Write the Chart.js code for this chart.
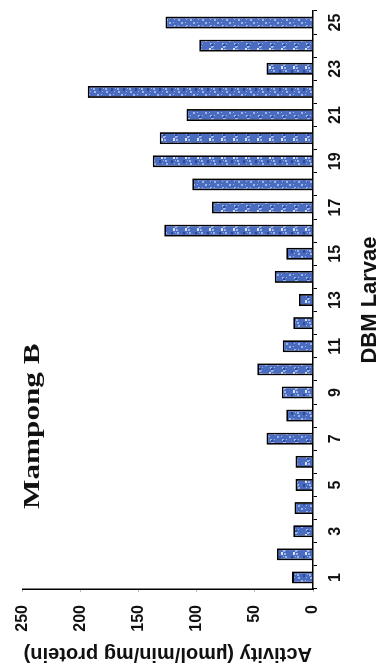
<!DOCTYPE html>
<html>
<head>
<meta charset="utf-8">
<title>Mampong B</title>
<script src="https://cdn.jsdelivr.net/npm/chart.js@4.4.1/dist/chart.umd.min.js"></script>
<style>
    html, body { margin: 0; padding: 0; background: #fff; }
    #page { position: relative; width: 384px; height: 672px; overflow: hidden; }
    /* chart is laid out landscape and turned a quarter turn counter-clockwise */
    #turn {
        position: absolute; left: 0; top: 0;
        width: 672px; height: 384px;
        transform-origin: 0 0;
        transform: translate(0, 672px) rotate(-90deg);
    }
</style>
</head>
<body>
<div id="page">
    <div id="turn"><canvas id="activityChart" width="672" height="384"></canvas></div>
</div>
<script>
// DBM larvae numbered 1..25
const larvae = ["1","2","3","4","5","6","7","8","9","10","11","12","13","14","15","16","17","18","19","20","21","22","23","24","25"];
// enzyme activity, umol/min/mg protein
const activity = [18, 31, 17, 16, 15, 15, 40, 23, 27, 48, 26, 17, 12, 33, 23, 128, 87, 104, 138, 132, 109, 194, 40, 98, 127];
const activityTicks = [0, 50, 100, 150, 200, 250];

const chartTitle = "Mampong B";
const xTitle = "DBM Larvae";
const yTitle = "Activity (\u00b5mol/min/mg protein)";

// mottled blue fill for the bars
function barPattern() {
    const c = document.createElement('canvas');
    c.width = 18; c.height = 12;
    const g = c.getContext('2d');
    g.fillStyle = '#4a6cc0';
    g.fillRect(0, 0, 18, 12);
    g.fillStyle = '#9db4e6';
    for (let i = 0; i < 18; i += 3) {
        g.fillRect(i, (i * 3) % 10 + 1, 2, 2);
        g.fillRect(i + 1, (i * 7 + 4) % 10 + 1, 1, 1);
    }
    g.fillStyle = '#d8e2f6';
    g.fillRect(9, 5, 3, 2);
    g.fillStyle = '#2d4a99';
    g.fillRect(5, 3, 3, 2);
    g.fillRect(14, 7, 2, 2);
    return g.createPattern(c, 'repeat');
}

// serif panel heading drawn inside the plot, slightly widened
const headingPlugin = {
    id: 'heading',
    afterDraw(chart) {
        const ctx = chart.ctx;
        const a = chart.chartArea;
        ctx.save();
        ctx.translate(a.left + 80, a.top + 16);
        ctx.scale(1.3, 1);
        ctx.font = 'bold 24px "Liberation Serif", "Times New Roman", serif';
        ctx.fillStyle = '#111';
        ctx.textBaseline = 'alphabetic';
        ctx.fillText(chartTitle, 0, 0);
        ctx.restore();
    }
};

const ctx = document.getElementById('activityChart').getContext('2d');
new Chart(ctx, {
    type: 'bar',
    data: {
        labels: larvae,
        datasets: [{
            data: activity,
            backgroundColor: barPattern(),
            borderColor: '#000',
            borderWidth: 1.8,
            categoryPercentage: 1,
            barPercentage: 0.52
        }]
    },
    options: {
        responsive: false,
        animation: false,
        devicePixelRatio: 1,
        layout: { padding: { top: 22, right: 11, left: 0, bottom: 0 } },
        plugins: {
            legend: { display: false },
            tooltip: { enabled: false }
        },
        scales: {
            x: {
                grid: {
                    display: true,
                    drawOnChartArea: false,
                    drawTicks: true,
                    tickLength: 4,
                    color: '#000',
                    lineWidth: 1
                },
                border: { display: true, color: '#000', width: 1.5 },
                ticks: {
                    autoSkip: false,
                    maxRotation: 0,
                    padding: 9,
                    color: '#111',
                    font: { family: '"Liberation Sans", Arial, sans-serif', size: 16, weight: 'bold' },
                    callback: function(value, index) {
                        return index % 2 === 0 ? larvae[index] : '';
                    }
                },
                title: {
                    display: true,
                    text: xTitle,
                    color: '#111',
                    padding: { top: 2, bottom: 1 },
                    font: { family: '"Liberation Sans", Arial, sans-serif', size: 22, weight: 'bold' }
                },
                afterFit: function(scale) { scale.height = 71; }
            },
            y: {
                min: 0,
                max: 250,
                afterBuildTicks: function(scale) {
                    scale.ticks = activityTicks.map(v => ({ value: v }));
                },
                grid: {
                    display: true,
                    drawOnChartArea: false,
                    drawTicks: true,
                    tickLength: 3,
                    color: '#bbb'
                },
                border: { display: true, color: '#000', width: 1.5 },
                ticks: {
                    padding: 13,
                    color: '#111',
                    font: { family: '"Liberation Sans", Arial, sans-serif', size: 16, weight: 'bold' }
                },
                title: {
                    display: true,
                    text: yTitle,
                    color: '#111',
                    padding: { top: 6, bottom: 0 },
                    font: { family: '"Liberation Sans", Arial, sans-serif', size: 20, weight: 'bold' }
                },
                afterFit: function(scale) { scale.width = 83; }
            }
        }
    },
    plugins: [headingPlugin]
});
</script>
</body>
</html>
